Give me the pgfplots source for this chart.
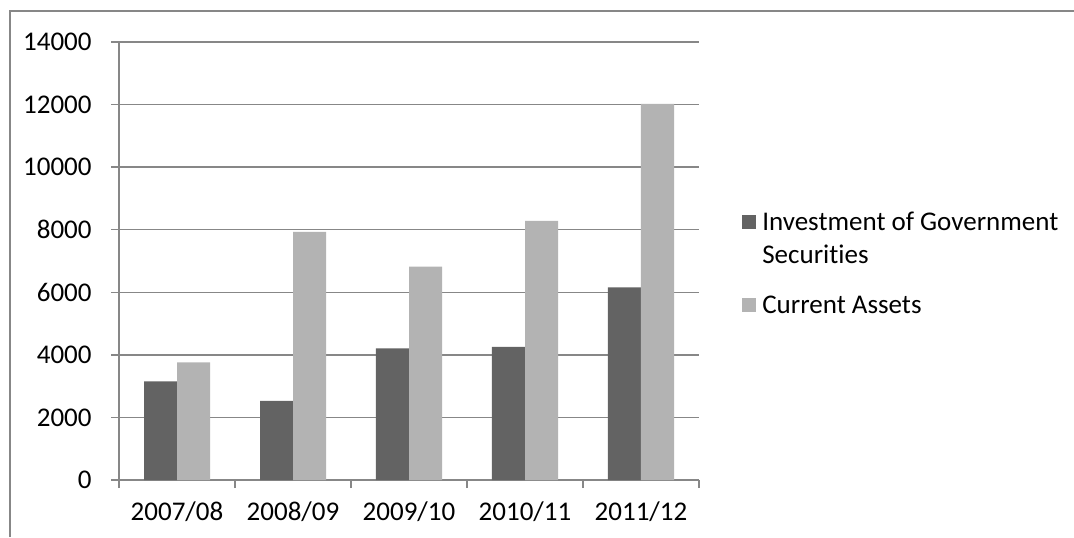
\documentclass[border=0pt]{standalone}
\usepackage{fontspec}
\setmainfont{Carlito}[Ligatures=NoCommon]
\usepackage{pgfplots}
\pgfplotsset{compat=1.18}
\definecolor{darkbar}{HTML}{636363}
\definecolor{lightbar}{HTML}{B3B3B3}
\definecolor{gridc}{HTML}{878787}
\begin{document}
\fontsize{13.5}{16.5}\selectfont
\begin{tikzpicture}
\useasboundingbox (0pt,0pt) rectangle (537pt,-268.5pt);
\draw[gridc, line width=0.75pt] (5pt,-268.5pt) -- (5pt,-5.5pt) -- (537pt,-5.5pt);
\begin{axis}[
  at={(59.5pt,-240pt)}, anchor=south west,
  scale only axis, width=290pt, height=219pt,
  ymin=0, ymax=14000, ytick={0,2000,...,14000},
  xmin=-0.5, xmax=4.5,
  xtick={-0.5,0.5,...,4.5}, xticklabels={},
  extra x ticks={0,1,2,3,4},
  extra x tick labels={2007/08,2008/09,2009/10,2010/11,2011/12},
  extra x tick style={major tick length=0pt},
  axis x line*=bottom, axis y line*=left,
  axis line style={gridc, line width=0.75pt, -},
  ymajorgrids, grid style={gridc, line width=0.75pt},
  tick align=outside, major tick length=4pt,
  tick style={gridc, line width=0.75pt},
  scaled y ticks=false,
  /pgf/number format/assume math mode=true,
  /pgf/number format/1000 sep={},
  ticklabel style={font=\fontsize{13.5}{16}\selectfont, text=black},
  xticklabel style={yshift=-6pt},
  yticklabel style={xshift=-5pt},
  ybar=0pt, bar width=16.5pt,
  legend style={at={(1.074,0.612)}, anchor=north west, draw=none, fill=none,
    inner sep=0pt, row sep=14pt, column sep=3pt,
    nodes={inner sep=0pt, align=left, font=\fontsize{13.5}{16.5}\selectfont, anchor=base west}},
  legend cell align=left,
]
\addplot[fill=darkbar, draw=none,
  legend image code/.code={\fill[darkbar] (0pt,17.2pt) rectangle (7pt,24.2pt);}]
  coordinates {(0,3150) (1,2530) (2,4210) (3,4255) (4,6155)};
\addplot[fill=lightbar, draw=none,
  legend image code/.code={\fill[lightbar] (0pt,0.7pt) rectangle (7pt,7.7pt);}]
  coordinates {(0,3760) (1,7930) (2,6820) (3,8285) (4,12020)};
\legend{Investment of Government\\Securities, Current Assets}
\end{axis}
\end{tikzpicture}
\end{document}
